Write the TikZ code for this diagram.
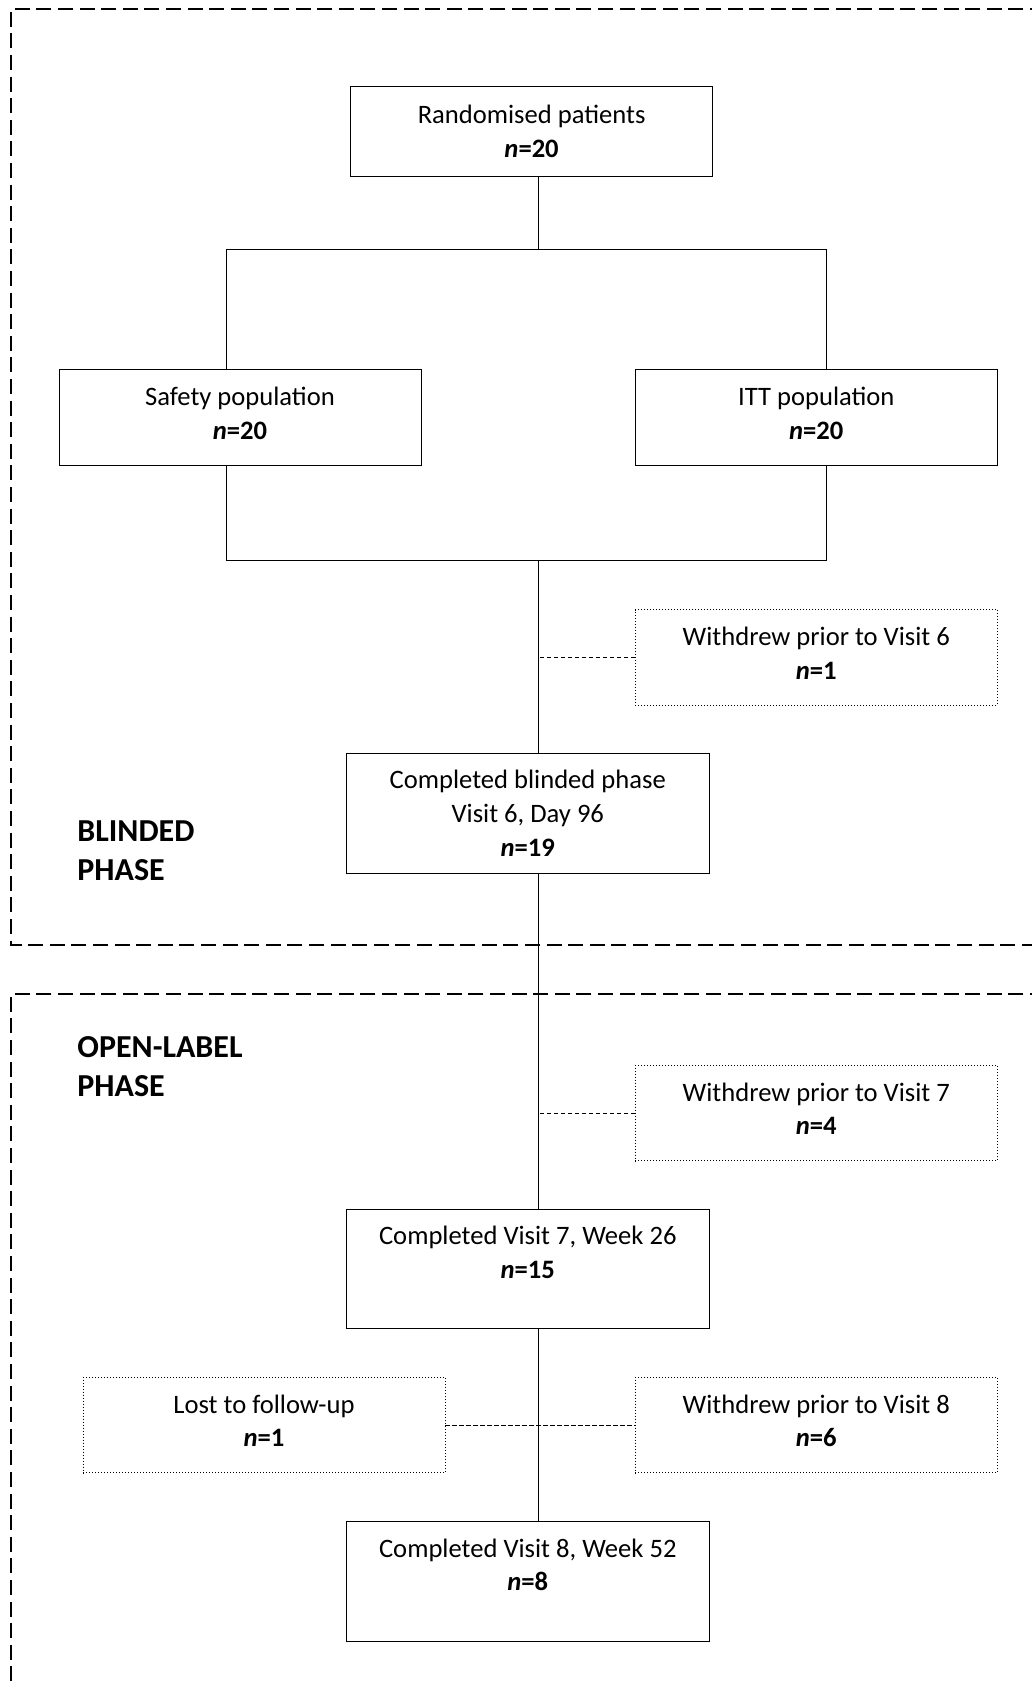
\documentclass[tikz,border=0pt]{standalone}
\usepackage{fontspec}
\setmainfont{Carlito}
\usepackage{tikz}
\usetikzlibrary{positioning,calc}

\newcommand{\nval}[1]{\textbf{\textit{n}=#1}}
\newcommand{\padDown}{\rule[-4.3pt]{0pt}{0pt}}

\tikzset{
  boxBase/.style={draw, line width=0.5pt, inner sep=0pt, align=center,
    minimum width=181pt, minimum height=47.8pt,
    font=\fontsize{13.3}{16.8}\selectfont},
  flowBox/.style={boxBase, execute at end node=\padDown},
  exitBox/.style={flowBox, densely dotted, line width=0.4pt},
  stageBox/.style={boxBase, minimum width=181.7pt, minimum height=59.8pt},
  exitLink/.style={dashed, dash pattern=on 2.2pt off 1.3pt, line width=0.4pt},
  phaseFrame/.style={line width=0.8pt, dash pattern=on 7.5pt off 3.3pt},
  phaseLabel/.style={anchor=west, align=left, inner sep=0pt,
    font=\fontsize{16}{19.5}\selectfont\bfseries}
}

\begin{document}
\begin{tikzpicture}[x=0.5pt, y=-0.5pt]
  \useasboundingbox (0,0) rectangle (1032,1685);

  % phase frames (run off the page on the right / bottom)
  \draw[phaseFrame] (1045,9) -- (11,9) -- (11,945) -- (1045,945);
  \draw[phaseFrame] (1045,994) -- (11,994) -- (11,1700);

  \node[phaseLabel] (blindLbl) at (77,851) {BLINDED\\PHASE};
  \node[phaseLabel] (openLbl) at (77,1067) {OPEN-LABEL\\PHASE};

  % boxes
  \node[boxBase, minimum height=45pt] (rand) at (531.6,131.2) {Randomised patients\\\nval{20}};
  \node[flowBox] (safety) at (240,417.7) {Safety population\\\nval{20}};
  \node[flowBox] (itt) at (816.3,417.7) {ITT population\\\nval{20}};
  \node[exitBox] (w6) at (816.3,657.3) {Withdrew prior to Visit 6\\\nval{1}};
  \node[stageBox] (blind) at (527.8,813.3) {Completed blinded phase\\Visit 6, Day 96\\\nval{19}};
  \node[exitBox] (w7) at (816.3,1113) {Withdrew prior to Visit 7\\\nval{4}};
  \node[stageBox] (v7) at (527.8,1269) {Completed Visit 7, Week 26\\\nval{15}\\\mbox{}};
  \node[exitBox] (lost) at (264,1425) {Lost to follow-up\\\nval{1}};
  \node[exitBox] (w8) at (816.3,1425) {Withdrew prior to Visit 8\\\nval{6}};
  \node[stageBox] (v8) at (527.8,1581.5) {Completed Visit 8, Week 52\\\nval{8}\\\mbox{}};

  % junction points
  \coordinate (splitTop) at (538.6,249.4);
  \coordinate (splitBot) at (538.6,560);
  \coordinate (legL) at (226.8,249.4);
  \coordinate (legR) at (826.7,249.4);
  \coordinate (legLb) at (226.8,560);
  \coordinate (legRb) at (826.7,560);

  % connectors
  \draw[line width=0.5pt] (rand.south -| splitTop) -- (splitTop);
  \draw[line width=0.5pt] (legL |- safety.north) -- (legL) -- (legR) -- (legR |- itt.north);
  \draw[line width=0.5pt] (legL |- safety.south) -- (legLb) -- (legRb) -- (legR |- itt.south);
  \draw[line width=0.5pt] (splitBot) -- (splitBot |- blind.north);
  \draw[line width=0.5pt] (splitBot |- blind.south) -- (splitBot |- v7.north);
  \draw[line width=0.5pt] (splitBot |- v7.south) -- (splitBot |- v8.north);
  \draw[exitLink] (w6.west) -- (w6.west -| splitBot);
  \draw[exitLink] (w7.west) -- (w7.west -| splitBot);
  \draw[exitLink] (lost.east) -- (w8.west);
\end{tikzpicture}
\end{document}
